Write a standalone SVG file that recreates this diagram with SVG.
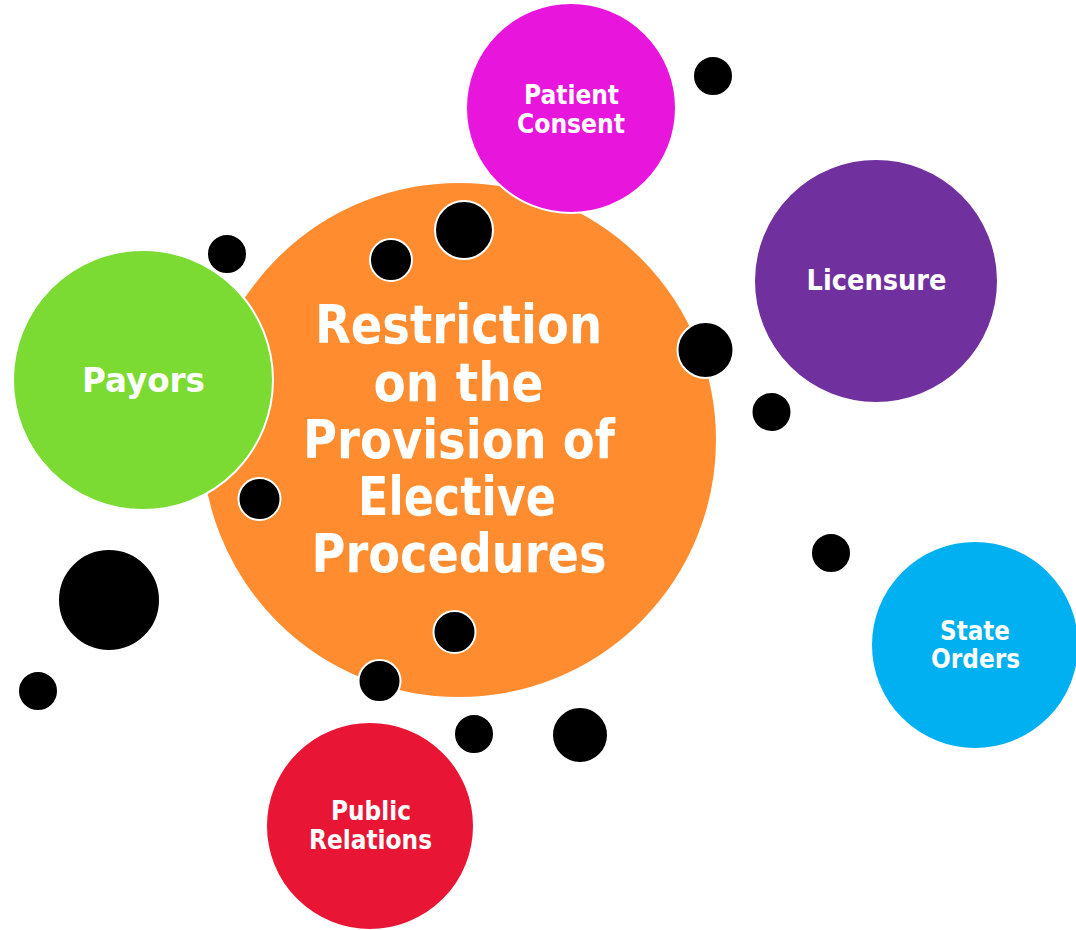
<svg xmlns="http://www.w3.org/2000/svg" width="1076" height="930" viewBox="0 0 1076 930">
  <style>
    .bubble { stroke: #ffffff; stroke-width: 2; }
    .dot { fill: #000000; stroke: #ffffff; stroke-width: 2; }
    .label { fill: #ffffff; font-family: "DejaVu Sans", Verdana, sans-serif; font-weight: bold; text-anchor: middle; }
    .title { font-size: 53px; }
    .small { font-size: 27px; }
  </style>
  <rect width="1076" height="930" fill="#ffffff"/>

  <!-- central topic -->
  <g id="node-restriction">
    <circle class="bubble" cx="459" cy="440" r="258" fill="#FF8C2F"/>
    <text class="label title" x="458.5" y="343" textLength="287" lengthAdjust="spacingAndGlyphs">Restriction</text>
    <text class="label title" x="458.5" y="401" textLength="170" lengthAdjust="spacingAndGlyphs">on the</text>
    <text class="label title" x="459" y="458" textLength="312" lengthAdjust="spacingAndGlyphs">Provision of</text>
    <text class="label title" x="457" y="515" textLength="198" lengthAdjust="spacingAndGlyphs">Elective</text>
    <text class="label title" x="459" y="572" textLength="295" lengthAdjust="spacingAndGlyphs">Procedures</text>
  </g>

  <g id="node-payors">
    <circle class="bubble" cx="143" cy="380" r="130" fill="#7BDB32"/>
    <text class="label" x="143.5" y="392" font-size="33" textLength="123" lengthAdjust="spacingAndGlyphs">Payors</text>
  </g>

  <g id="node-patient-consent">
    <circle class="bubble" cx="571" cy="108" r="105" fill="#E815DD"/>
    <text class="label small" x="571.5" y="104" textLength="95" lengthAdjust="spacingAndGlyphs">Patient</text>
    <text class="label small" x="571" y="133" textLength="108" lengthAdjust="spacingAndGlyphs">Consent</text>
  </g>

  <g id="node-licensure">
    <circle class="bubble" cx="876" cy="281" r="122" fill="#70309E"/>
    <text class="label" x="876.5" y="290" font-size="29" textLength="140" lengthAdjust="spacingAndGlyphs">Licensure</text>
  </g>

  <g id="node-state-orders">
    <circle class="bubble" cx="975" cy="645" r="104" fill="#00B0F0"/>
    <text class="label small" x="975" y="640" textLength="70" lengthAdjust="spacingAndGlyphs">State</text>
    <text class="label small" x="975.5" y="668" textLength="89" lengthAdjust="spacingAndGlyphs">Orders</text>
  </g>

  <g id="node-public-relations">
    <circle class="bubble" cx="370" cy="826" r="104" fill="#E81535"/>
    <text class="label small" x="371" y="820" textLength="80" lengthAdjust="spacingAndGlyphs">Public</text>
    <text class="label small" x="370.5" y="849" textLength="123" lengthAdjust="spacingAndGlyphs">Relations</text>
  </g>

  <!-- scattered dots -->
  <g id="connectors">
    <circle class="dot" cx="713" cy="76" r="20"/>
    <circle class="dot" cx="227" cy="254" r="20"/>
    <circle class="dot" cx="391" cy="260" r="21"/>
    <circle class="dot" cx="464" cy="230" r="29"/>
    <circle class="dot" cx="705.5" cy="350" r="28"/>
    <circle class="dot" cx="771.5" cy="412" r="20"/>
    <circle class="dot" cx="259.5" cy="499" r="21"/>
    <circle class="dot" cx="831" cy="553" r="20"/>
    <circle class="dot" cx="109" cy="600" r="51"/>
    <circle class="dot" cx="38" cy="691" r="20"/>
    <circle class="dot" cx="454.5" cy="632" r="21"/>
    <circle class="dot" cx="379.5" cy="681" r="21"/>
    <circle class="dot" cx="474" cy="734" r="20"/>
    <circle class="dot" cx="580" cy="735" r="28"/>
  </g>
</svg>
